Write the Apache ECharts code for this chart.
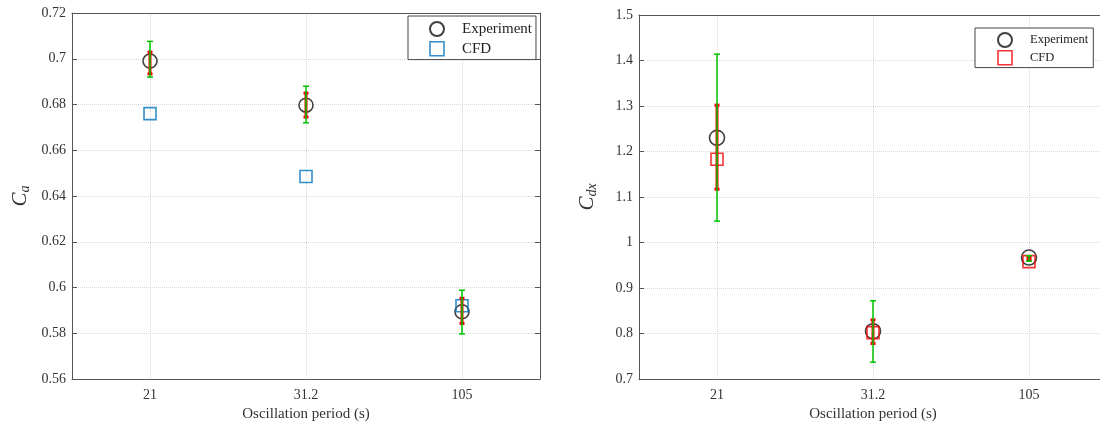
<!DOCTYPE html>
<html>
<head>
<meta charset="utf-8">
<script src="https://cdn.jsdelivr.net/npm/echarts@6/dist/echarts.min.js"></script>
<style>html,body{margin:0;background:#fff}#chart{width:1100px;height:429px}</style>
</head>
<body>
<div id="chart"></div>
<script>
var periods = ['21', '31.2', '105'];

// left panel: Ca
var caExperiment = [0.699, 0.6797, 0.5894];
var caCfd = [0.676, 0.6485, 0.592];
var caGreenLow = [0.692, 0.672, 0.5797];
var caGreenHigh = [0.7076, 0.688, 0.5988];
var caRedLow = [0.6934, 0.6745, 0.5843];
var caRedHigh = [0.7029, 0.685, 0.5953];

// right panel: Cdx
var cdxExperiment = [1.230, 0.805, 0.967];
var cdxCfd = [1.183, 0.802, 0.958];
var cdxGreenLow = [1.047, 0.737, 0.959];
var cdxGreenHigh = [1.414, 0.872, 0.971];
var cdxRedLow = [1.117, 0.778, 0.962];
var cdxRedHigh = [1.302, 0.830, 0.968];

var FONT = "'Liberation Serif', 'Times New Roman', serif";
var AXIS_COLOR = '#555';
var GREEN = '#00c400';
var RED = '#f00000';
var BLUE = '#0072bd';
var SQUARE = 'path://M0 0H10V10H0Z';

var myChart = echarts.init(document.getElementById('chart'));

function bars(low, high) {
  var out = [];
  for (var i = 0; i < low.length; i++) out.push([i, low[i], high[i]]);
  return out;
}

function points(vals) {
  var out = [];
  for (var i = 0; i < vals.length; i++) out.push([i, vals[i]]);
  return out;
}

// vertical error bar with caps
function errorBar(color, width, capHalf) {
  return function (params, api) {
    var x = api.value(0);
    var top = api.coord([x, api.value(2)]);
    var bot = api.coord([x, api.value(1)]);
    var st = { stroke: color, lineWidth: width };
    return {
      type: 'group',
      children: [
        { type: 'line', shape: { x1: top[0], y1: top[1], x2: bot[0], y2: bot[1] }, style: st },
        { type: 'line', shape: { x1: top[0] - capHalf, y1: top[1], x2: top[0] + capHalf, y2: top[1] }, style: st },
        { type: 'line', shape: { x1: bot[0] - capHalf, y1: bot[1], x2: bot[0] + capHalf, y2: bot[1] }, style: st }
      ]
    };
  };
}

function xAxisMain(grid) {
  return {
    gridIndex: grid,
    type: 'category',
    data: periods,
    position: 'bottom',
    name: 'Oscillation period (s)',
    nameLocation: 'middle',
    nameGap: 25,
    nameTextStyle: { fontFamily: FONT, fontSize: 15, color: '#333' },
    axisLine: { lineStyle: { color: AXIS_COLOR, width: 1 } },
    axisTick: { inside: true, alignWithLabel: true, length: 5, lineStyle: { color: AXIS_COLOR } },
    axisLabel: { fontFamily: FONT, fontSize: 14, color: '#333', margin: 9 },
    splitLine: { show: true, alignWithLabel: true, lineStyle: { color: '#d8d8d8', type: 'dotted' } }
  };
}

function xAxisTop(grid) {
  return {
    gridIndex: grid,
    type: 'category',
    data: periods,
    position: 'top',
    axisLine: { lineStyle: { color: AXIS_COLOR, width: 1 } },
    axisTick: { inside: true, alignWithLabel: true, length: 5, lineStyle: { color: AXIS_COLOR } },
    axisLabel: { show: false },
    splitLine: { show: false }
  };
}

function yAxisMain(grid, min, max, step, digits, name, gap) {
  return {
    gridIndex: grid,
    type: 'value',
    position: 'left',
    min: min,
    max: max,
    interval: step,
    name: name,
    nameLocation: 'middle',
    nameRotate: 90,
    nameGap: gap,
    nameTextStyle: {
      color: '#333',
      rich: {
        c: { fontFamily: FONT, fontStyle: 'italic', fontSize: 21, color: '#333', lineHeight: 24 },
        s: { fontFamily: FONT, fontStyle: 'italic', fontSize: 14, color: '#333', verticalAlign: 'bottom', lineHeight: 14 }
      }
    },
    axisLine: { show: true, lineStyle: { color: AXIS_COLOR, width: 1 } },
    axisTick: { show: true, inside: true, length: 5, lineStyle: { color: AXIS_COLOR } },
    axisLabel: {
      fontFamily: FONT, fontSize: 14, color: '#333', margin: 6,
      formatter: function (v) { return String(+v.toFixed(digits)); }
    },
    splitLine: { show: true, lineStyle: { color: '#d8d8d8', type: 'dotted' } }
  };
}

function yAxisRight(grid, min, max, step) {
  return {
    gridIndex: grid,
    type: 'value',
    position: 'right',
    min: min,
    max: max,
    interval: step,
    axisLine: { show: true, lineStyle: { color: AXIS_COLOR, width: 1 } },
    axisTick: { show: true, inside: true, length: 5, lineStyle: { color: AXIS_COLOR } },
    axisLabel: { show: false },
    splitLine: { show: false }
  };
}

function legendBox(left, top, padding, itemGap, fontSize, cfdColor) {
  return {
    left: left,
    top: top,
    orient: 'vertical',
    padding: padding,
    itemGap: itemGap,
    itemWidth: 40,
    itemHeight: 14,
    borderColor: '#444',
    borderWidth: 1,
    borderRadius: 0,
    backgroundColor: '#fff',
    selectedMode: false,
    textStyle: { fontFamily: FONT, fontSize: fontSize, color: '#222' },
    data: [
      { name: 'Experiment' },
      { name: 'CFD', icon: SQUARE, itemStyle: { borderColor: cfdColor, borderWidth: 1.6, color: 'rgba(0,0,0,0)' } }
    ]
  };
}

function expSeries(x, y, vals, size) {
  return {
    name: 'Experiment', type: 'scatter', xAxisIndex: x, yAxisIndex: y,
    symbol: 'circle', symbolSize: size, z: 2,
    itemStyle: { color: 'rgba(0,0,0,0)', borderColor: '#111', borderWidth: 1.6 },
    data: points(vals)
  };
}

function cfdSeries(x, y, vals, color) {
  return {
    name: 'CFD', type: 'scatter', xAxisIndex: x, yAxisIndex: y,
    symbol: 'rect', symbolSize: 12, z: 3,
    itemStyle: { color: 'rgba(0,0,0,0)', borderColor: color, borderWidth: 1.6 },
    data: points(vals)
  };
}

function barSeries(x, y, low, high, color, width, capHalf, z) {
  return {
    type: 'custom', xAxisIndex: x, yAxisIndex: y, z: z,
    renderItem: errorBar(color, width, capHalf),
    encode: { x: 0, y: [1, 2] },
    data: bars(low, high)
  };
}

var option = {
  animation: false,
  backgroundColor: '#fff',
  grid: [
    { left: 72, top: 13, width: 468, height: 366, outerBoundsMode: 'none' },
    { left: 639, top: 15, width: 468, height: 364, outerBoundsMode: 'none' }
  ],
  xAxis: [xAxisMain(0), xAxisTop(0), xAxisMain(1), xAxisTop(1)],
  yAxis: [
    yAxisMain(0, 0.56, 0.72, 0.02, 2, '{c|C}{s|a}', 40),
    yAxisRight(0, 0.56, 0.72, 0.02),
    yAxisMain(1, 0.7, 1.5, 0.1, 1, '{c|C}{s|dx}', 40),
    yAxisRight(1, 0.7, 1.5, 0.1)
  ],
  legend: [
    legendBox(408, 16, [5, 4, 3, 21], 4, 15, BLUE),
    legendBox(975, 28, [4, 5, 2, 22], 2, 12.5, RED)
  ],
  series: [
    expSeries(0, 0, caExperiment, 14),
    cfdSeries(0, 0, caCfd, BLUE),
    barSeries(0, 0, caRedLow, caRedHigh, RED, 3, 2.5, 4),
    barSeries(0, 0, caGreenLow, caGreenHigh, GREEN, 1.5, 3, 5),
    expSeries(2, 2, cdxExperiment, 15),
    cfdSeries(2, 2, cdxCfd, RED),
    barSeries(2, 2, cdxRedLow, cdxRedHigh, RED, 3, 2.5, 4),
    barSeries(2, 2, cdxGreenLow, cdxGreenHigh, GREEN, 1.5, 3, 5)
  ]
};

myChart.setOption(option);
</script>
</body>
</html>
